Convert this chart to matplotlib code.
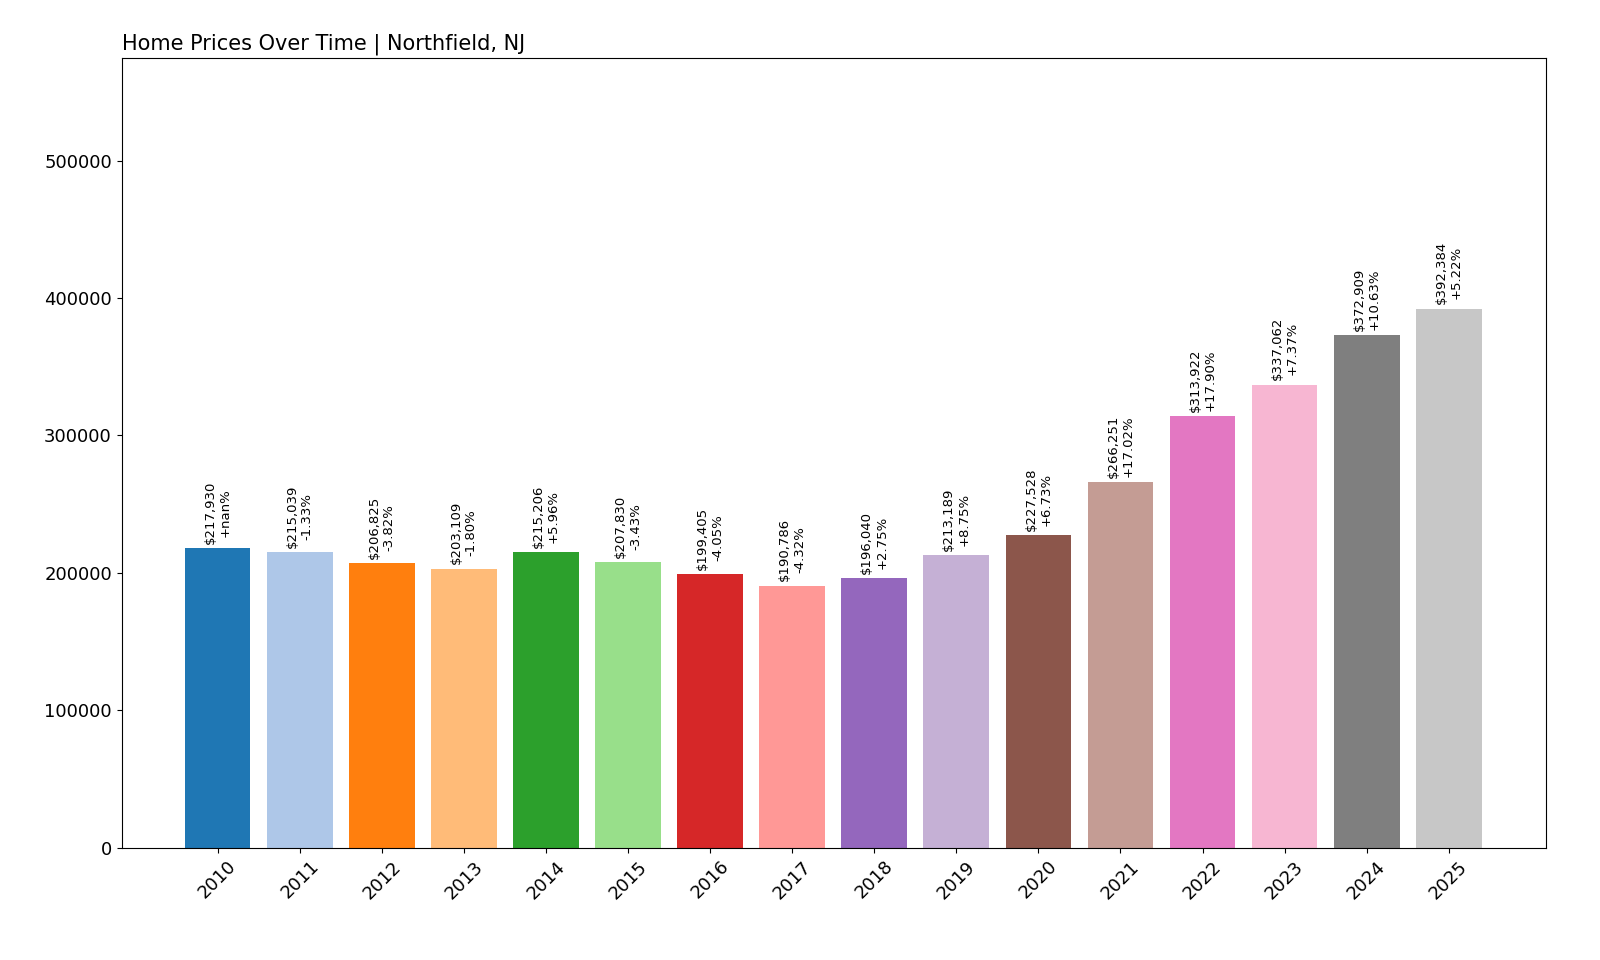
import numpy as np
import matplotlib
matplotlib.use("Agg")
import matplotlib.pyplot as plt

years = [str(y) for y in range(2010, 2026)]
prices = [217930, 215039, 206825, 203109, 215206, 207830, 199405, 190786,
          196040, 213189, 227528, 266251, 313922, 337062, 372909, 392384]
changes = ["+nan%", "-1.33%", "-3.82%", "-1.80%", "+5.96%", "-3.43%", "-4.05%", "-4.32%",
           "+2.75%", "+8.75%", "+6.73%", "+17.02%", "+17.90%", "+7.37%", "+10.63%", "+5.22%"]

colors = plt.get_cmap("tab20").colors[:len(years)]

fig = plt.figure(figsize=(16, 9.6), dpi=100)
ax = fig.add_axes([0.076, 0.117, 0.89, 0.823])

x = np.arange(len(years))
bars = ax.bar(x, prices, color=colors, width=0.8)

for bar, p, c in zip(bars, prices, changes):
    ax.text(bar.get_x() + bar.get_width() / 2, p + 3000, f"${p:,}\n{c}",
            rotation=90, ha="center", va="bottom", fontsize=9.5)

ax.set_xticks(x)
ax.set_xticklabels(years, rotation=45, fontsize=13)
ax.tick_params(axis="y", labelsize=13)
ax.set_ylim(0, 575000)
ax.set_xlim(-1.17, 16.18)
ax.set_title("Home Prices Over Time | Northfield, NJ", loc="left", fontsize=15)

fig.savefig("out.png")
